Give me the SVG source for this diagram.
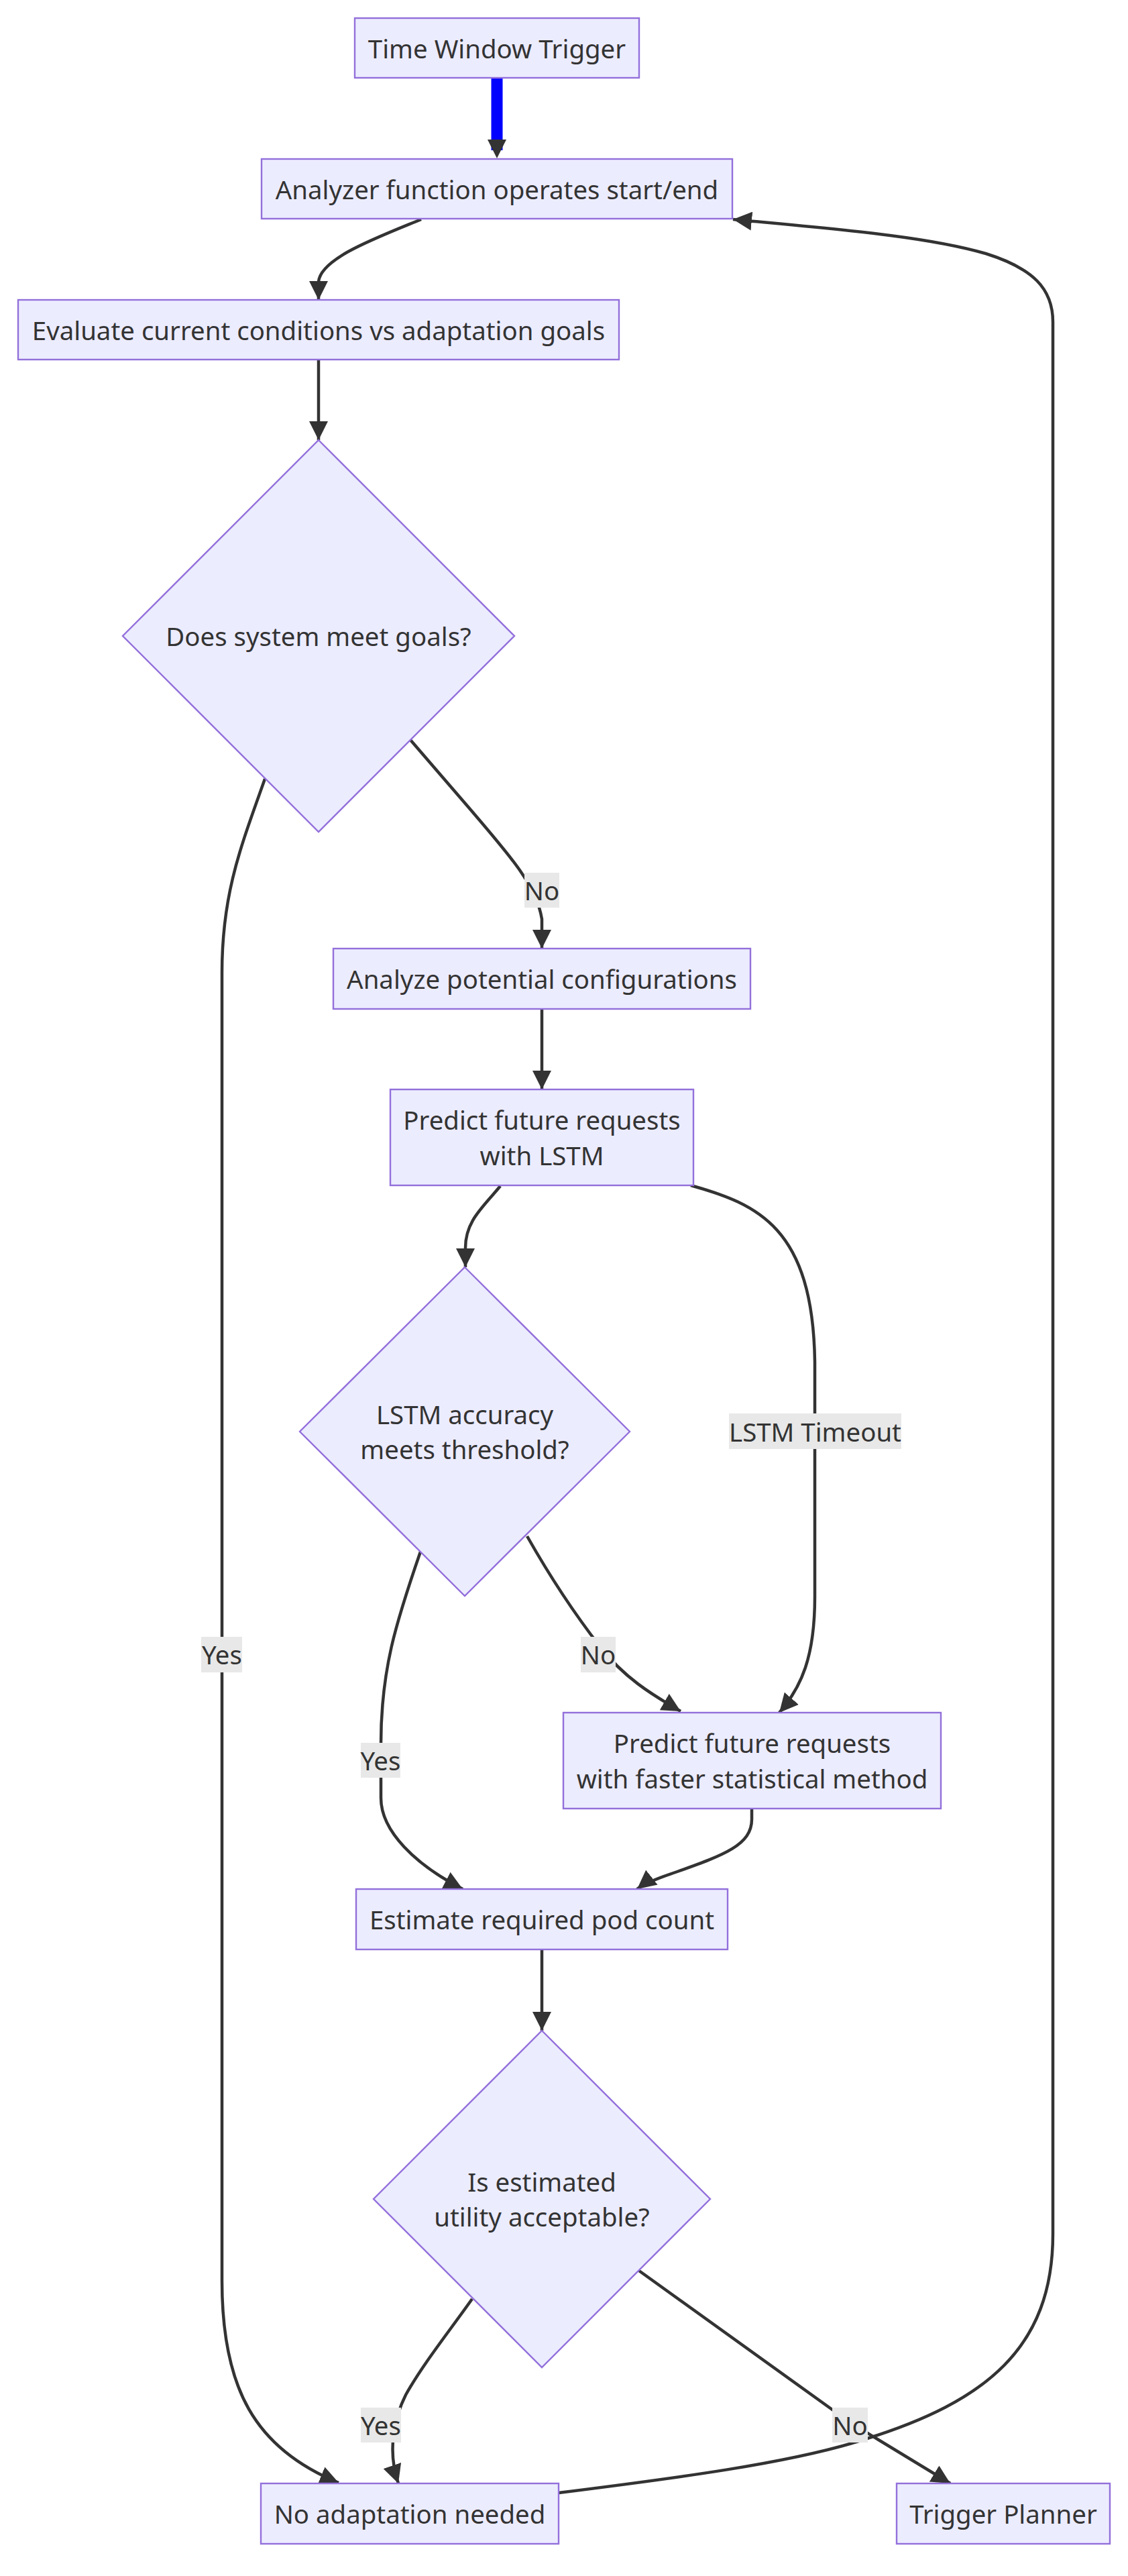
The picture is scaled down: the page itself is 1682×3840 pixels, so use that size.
<svg xmlns="http://www.w3.org/2000/svg" width="1682" height="3840" viewBox="0 0 1682 3840">
<style>
.node rect, .node polygon { fill:#ECECFF; stroke:#9370DB; stroke-width:2.4; }
.t { font-family:"Noto Sans","Open Sans",sans-serif; font-size:38.4px; fill:#333333; text-anchor:middle; dominant-baseline:central; }
.edge { fill:none; stroke:#333333; stroke-width:4.5; marker-end:url(#arrow); }
.blue { fill:none; stroke:#0000FF; stroke-width:17; marker-end:url(#arrowB); }
.elbg { fill:#E8E8E8; }
</style>
<defs>
<marker id="arrow" viewBox="0 0 10 10" refX="10" refY="5" markerUnits="userSpaceOnUse" markerWidth="28" markerHeight="28" orient="auto"><path d="M0,0 L10,5 L0,10 z" fill="#333333"/></marker>
<marker id="arrowB" viewBox="0 0 10 10" refX="5.7" refY="5" markerUnits="userSpaceOnUse" markerWidth="28" markerHeight="28" orient="auto"><path d="M0,0 L10,5 L0,10 z" fill="#333333"/></marker>
</defs>
<rect width="1682" height="3840" fill="#FFFFFF"/>
<g id="connectors">
<path class="blue" d="M741,116 L741,224"/>
<path class="edge" d="M628,327 C560,355 478,385 475,420 L475,447"/>
<path class="edge" d="M475,536 L475,656"/>
<path class="edge" d="M395,1161 C360,1260 331,1330 331,1450 L331,3400 C331,3560 380,3650 505,3701"/>
<path class="edge" d="M612,1103 L700,1205 C760,1275 800,1320 808,1370 L808,1414"/>
<path class="edge" d="M808,1504 L808,1624"/>
<path class="edge" d="M746,1768 C720,1800 694,1820 694,1860 L694,1889"/>
<path class="edge" d="M1030,1767 C1130,1795 1212,1830 1215,2030 L1215,2380 C1215,2470 1195,2515 1162,2553"/>
<path class="edge" d="M627,2313 C590,2420 568,2490 568,2600 L568,2680 C568,2730 620,2780 690,2816"/>
<path class="edge" d="M786,2290 C820,2350 860,2410 895,2455 C930,2500 970,2525 1015,2551"/>
<path class="edge" d="M1121,2696 L1121,2712 C1121,2750 1080,2765 1010,2790 C980,2800 960,2808 950,2816"/>
<path class="edge" d="M808,2906 L808,3027"/>
<path class="edge" d="M704,3427 C670,3475 630,3525 605,3570 C590,3600 576,3650 594,3702"/>
<path class="edge" d="M953,3385 L1241,3592 C1270,3612 1290,3625 1310,3637 L1417,3702"/>
<path class="edge" d="M833,3716 C1000,3695 1180,3672 1290,3636 C1470,3580 1570,3500 1570,3330 L1570,480 C1570,430 1540,400 1470,378 C1380,352 1250,342 1093,327"/>
</g>
<g id="edge-labels">
<g id="lbl-no1"><rect class="elbg" x="782" y="1301" width="52" height="52"/><text class="t" x="808" y="1327">No</text></g>
<g id="lbl-yes1"><rect class="elbg" x="300" y="2440" width="61" height="53"/><text class="t" x="331" y="2466">Yes</text></g>
<g id="lbl-timeout"><rect class="elbg" x="1087" y="2107" width="257" height="53"/><text class="t" x="1215.5" y="2133.5">LSTM Timeout</text></g>
<g id="lbl-no2"><rect class="elbg" x="866" y="2440" width="52" height="53"/><text class="t" x="892" y="2466">No</text></g>
<g id="lbl-yes2"><rect class="elbg" x="538" y="2598" width="59" height="52"/><text class="t" x="567.5" y="2624">Yes</text></g>
<g id="lbl-yes3"><rect class="elbg" x="538" y="3589" width="60" height="52"/><text class="t" x="568" y="3615">Yes</text></g>
<g id="lbl-no3"><rect class="elbg" x="1241" y="3589" width="53" height="52"/><text class="t" x="1267.5" y="3615">No</text></g>
</g>
<g id="nodes">
<g id="n-trigger" class="node"><rect x="529" y="27" width="424" height="89"/><text class="t" x="741" y="71.5">Time Window Trigger</text></g>
<g id="n-analyzer" class="node"><rect x="390" y="237" width="702" height="89"/><text class="t" x="741" y="281.5">Analyzer function operates start/end</text></g>
<g id="n-evaluate" class="node"><rect x="27" y="447" width="896" height="89"/><text class="t" x="475" y="491.5">Evaluate current conditions vs adaptation goals</text></g>
<g id="n-goals" class="node"><polygon points="475,656 767,948 475,1240 183,948"/><text class="t" x="475" y="948">Does system meet goals?</text></g>
<g id="n-configs" class="node"><rect x="497" y="1414" width="622" height="90"/><text class="t" x="808" y="1459">Analyze potential configurations</text></g>
<g id="n-lstm" class="node"><rect x="582" y="1624" width="452" height="143"/><text class="t" x="808" y="1669.3">Predict future requests</text><text class="t" x="808" y="1721.7">with LSTM</text></g>
<g id="n-accuracy" class="node"><polygon points="693,1889 939,2134 693,2379 447,2134"/><text class="t" x="693" y="2107.8">LSTM accuracy</text><text class="t" x="693" y="2160.2">meets threshold?</text></g>
<g id="n-faster" class="node"><rect x="840" y="2553" width="563" height="143"/><text class="t" x="1121.5" y="2598.3">Predict future requests</text><text class="t" x="1121.5" y="2650.7">with faster statistical method</text></g>
<g id="n-estimate" class="node"><rect x="531" y="2816" width="554" height="90"/><text class="t" x="808" y="2861">Estimate required pod count</text></g>
<g id="n-utility" class="node"><polygon points="808,3027 1059,3278 808,3529 557,3278"/><text class="t" x="808" y="3251.8">Is estimated</text><text class="t" x="808" y="3304.2">utility acceptable?</text></g>
<g id="n-noadapt" class="node"><rect x="389" y="3702" width="444" height="90"/><text class="t" x="611" y="3747">No adaptation needed</text></g>
<g id="n-planner" class="node"><rect x="1337" y="3702" width="318" height="90"/><text class="t" x="1496" y="3747">Trigger Planner</text></g>
</g>
</svg>
